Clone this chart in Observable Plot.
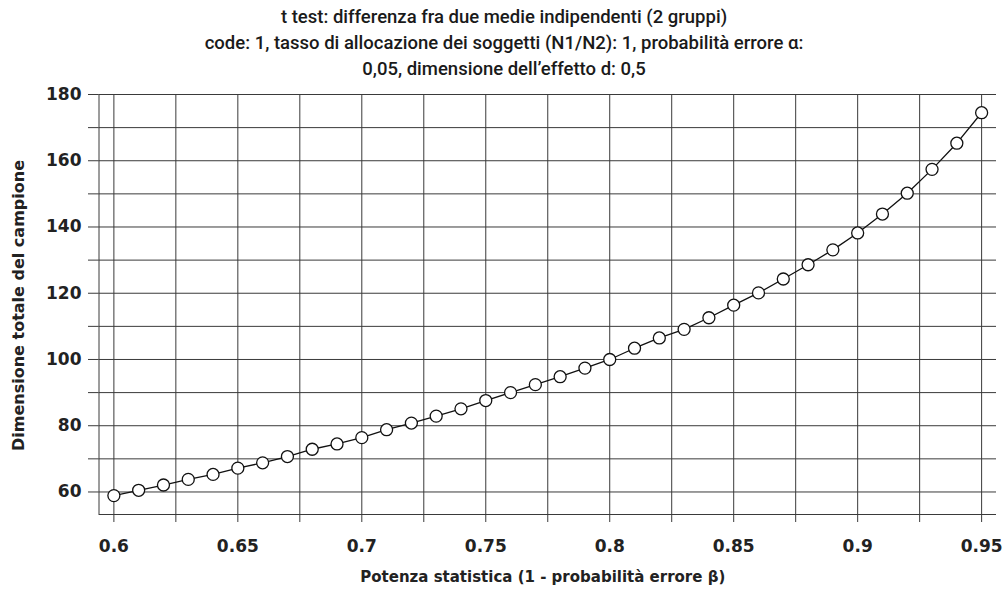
<!DOCTYPE html>
<html><head><meta charset="utf-8">
<script src="https://cdn.jsdelivr.net/npm/d3@7"></script>
<script src="https://cdn.jsdelivr.net/npm/@observablehq/plot@0.6"></script>
<style>
body{margin:0;background:#fff;}
#title{font-family:Roboto,sans-serif;font-size:18.5px;font-weight:500;text-align:center;line-height:26px;height:84px;padding-top:4px;box-sizing:border-box;color:#1a1a1a;}
#chart svg{display:block;}
</style></head><body>
<div id="title">
<div>t test: differenza fra due medie indipendenti (2 gruppi)</div>
<div>code: 1, tasso di allocazione dei soggetti (N1/N2): 1, probabilità errore α:</div>
<div>0,05, dimensione dell’effetto d: 0,5</div>
</div>
<div id="chart"></div>
<script>
const power = [0.60,0.61,0.62,0.63,0.64,0.65,0.66,0.67,0.68,0.69,0.70,0.71,0.72,0.73,0.74,0.75,0.76,0.77,0.78,0.79,0.80,0.81,0.82,0.83,0.84,0.85,0.86,0.87,0.88,0.89,0.90,0.91,0.92,0.93,0.94,0.95];
const totalN = [58.9,60.5,62.1,63.8,65.3,67.2,68.8,70.7,72.9,74.5,76.4,78.8,80.8,82.9,85.1,87.6,90.0,92.4,94.8,97.4,100.0,103.4,106.5,109.1,112.6,116.4,120.1,124.3,128.6,133.1,138.2,143.9,150.2,157.4,165.3,174.5];
const xTicks = [0.6,0.625,0.65,0.675,0.7,0.725,0.75,0.775,0.8,0.825,0.85,0.875,0.9,0.925,0.95];
const xLabels = [0.6,0.65,0.7,0.75,0.8,0.85,0.9,0.95];
const yTicks = [60,70,80,90,100,110,120,130,140,150,160,170,180];
const yLabels = [60,80,100,120,140,160,180];
const xDomain = [0.594, 0.956];
const yDomain = [53.2, 180];
const xTitle = "Potenza statistica (1 - probabilità errore β)";
const yTitle = "Dimensione totale del campione";

const data = power.map((p, i) => ({power: p, n: totalN[i]}));
const gridColor = "#3a3a3a";

const chart = Plot.plot({
  width: 1008,
  height: 506,
  marginTop: 10,
  marginBottom: 76,
  marginLeft: 98.5,
  marginRight: 12,
  style: {fontFamily: "DejaVu Sans", fontSize: "17px", fontWeight: "bold", color: "#222", background: "#fff"},
  x: {domain: xDomain},
  y: {domain: yDomain},
  marks: [
    Plot.gridX(xTicks, {stroke: gridColor, strokeOpacity: 1, strokeWidth: 1}),
    Plot.gridY(yTicks, {stroke: gridColor, strokeOpacity: 1, strokeWidth: 1}),
    Plot.ruleX([xDomain[0]], {stroke: gridColor, strokeWidth: 1}),
    Plot.ruleY([yDomain[0]], {stroke: gridColor, strokeWidth: 1}),
    Plot.axisX(xTicks, {tickSize: 8, tickPadding: 17, stroke: gridColor,
      tickFormat: d => xLabels.includes(d) ? String(d) : "",
      label: null, fontSize: 17}),
    Plot.axisY(yTicks, {tickSize: 10.5, tickPadding: 7, stroke: gridColor,
      tickFormat: d => yLabels.includes(d) ? String(d) : "",
      label: null, fontSize: 17}),
    Plot.text([xTitle], {frameAnchor: "bottom", lineAnchor: "top", dy: 57, dx: -5,
      fontSize: 15, fontWeight: "bold", fill: "#222"}),
    Plot.text([yTitle], {frameAnchor: "left", textAnchor: "middle", lineAnchor: "middle", rotate: -90, dx: -80, dy: 1,
      fontSize: 16, fontWeight: "bold", fill: "#222"}),
    Plot.line(data, {x: "power", y: "n", stroke: "#111", strokeWidth: 1.3}),
    Plot.dot(data, {x: "power", y: "n", r: 6, fill: "white", stroke: "#111", strokeWidth: 1.3})
  ]
});
document.getElementById("chart").appendChild(chart);
</script>
</body></html>
